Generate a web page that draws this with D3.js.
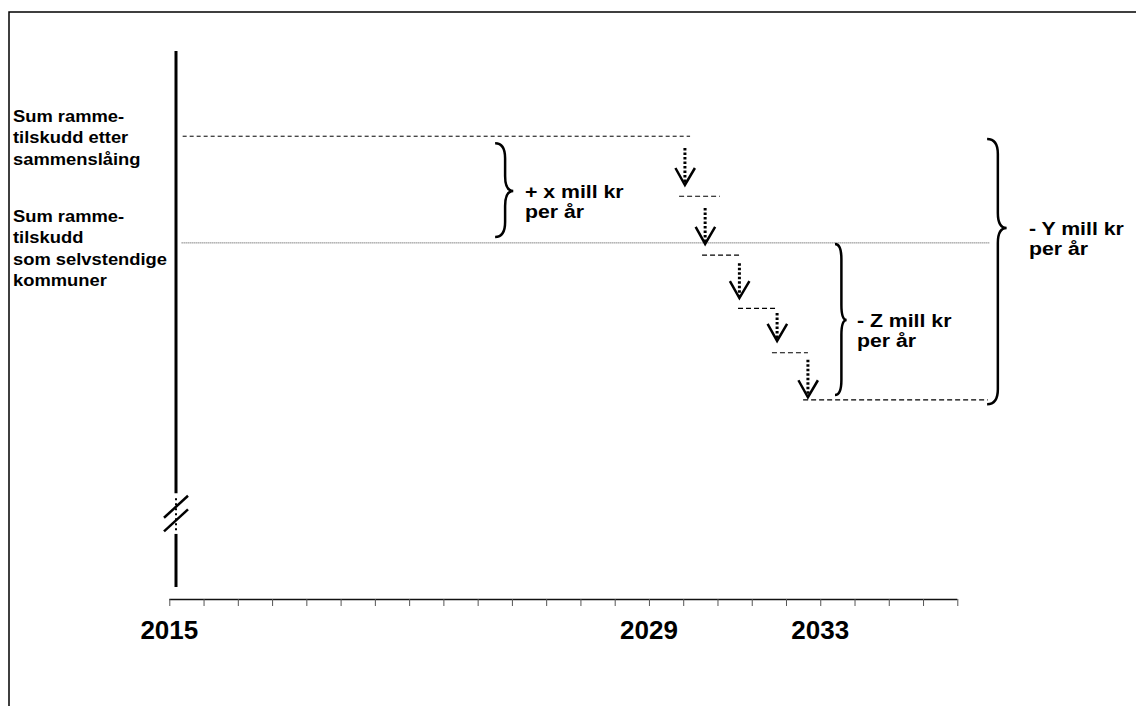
<!DOCTYPE html>
<html>
<head>
<meta charset="utf-8">
<script src="https://cdn.jsdelivr.net/npm/d3@7"></script>
<style>
    body { margin: 0; background: #fff; }
    svg { display: block; font-family: "Liberation Sans", Arial, sans-serif; font-weight: bold; }
</style>
</head>
<body>
<div id="chart"></div>
<script>
const width = 1136;
const height = 706;

// time axis: one tick per year slot, only three of them labelled
const tickSlots = [0, 1, 2, 3, 4, 5, 6, 7, 8, 9, 10, 11, 12, 13, 14, 15, 16, 17, 18, 19, 20, 21, 22, 23];
const yearLabelSlots = [0, 14, 19];
const yearLabels = ["2015", "2029", "2033"];

// level of the block grant (schematic units, 0-100 on the broken axis)
const levelMerged = 84.1;
const levelSeparate = 64.2;
const mergedSpan = [0.39, 15.2];
const separateSpan = [0.36, 23.95];

// stepwise reduction after the merger
const stepStart = [14.88, 15.55, 16.6, 17.59, 18.5];
const stepEnd = [16.07, 16.63, 17.74, 18.64, 23.89];
const stepLevel = [72.9, 61.9, 52.0, 43.7, 34.9];

const arrowSlot = [15.05, 15.64, 16.64, 17.74, 18.64];
const arrowFrom = [81.9, 70.7, 60.4, 51.1, 42.4];
const arrowTo = [75.0, 64.0, 53.9, 45.9, 35.4];

// braces with their labels
const braceLabels = [["+ x mill kr", "per år"], ["- Z mill kr", "per år"], ["- Y mill kr", "per år"]];
const braceEndSlot = [9.51, 19.43, 23.87];
const braceTipSlot = [10.04, 19.77, 24.44];
const braceLabelSlot = [10.38, 20.07, 25.09];
const braceTop = [82.8, 64.0, 83.6];
const braceTip = [73.9, 49.8, 67.0];
const braceBottom = [65.3, 35.8, 34.1];

const leftLabels = [
    ["Sum ramme-", "tilskudd etter", "sammenslåing"],
    ["Sum ramme-", "tilskudd", "som selvstendige", "kommuner"]
];

const axisBreak = [17.5, 9.9];

const svg = d3.select("#chart").append("svg")
    .attr("width", width)
    .attr("height", height);

const x = d3.scaleLinear()
    .domain([0, 23])
    .range([169.3, 957.3]);

const y = d3.scaleLinear()
    .domain([0, 100])
    .range([587, 51]);

// frame (only top and left edges show)
svg.append("path")
    .attr("d", `M9,${height} L9,12 L${width},12`)
    .attr("fill", "none")
    .attr("stroke", "#000")
    .attr("stroke-width", 1.5);

// vertical axis with a break
const axisX = x(0) + 6.7;
svg.append("line")
    .attr("x1", axisX).attr("x2", axisX)
    .attr("y1", y(100)).attr("y2", y(axisBreak[0]))
    .attr("stroke", "#000").attr("stroke-width", 3);
svg.append("line")
    .attr("x1", axisX).attr("x2", axisX)
    .attr("y1", y(axisBreak[1])).attr("y2", y(0))
    .attr("stroke", "#000").attr("stroke-width", 3);
svg.append("line")
    .attr("x1", axisX).attr("x2", axisX)
    .attr("y1", y(axisBreak[0]) + 5).attr("y2", y(axisBreak[1]) - 3)
    .attr("stroke", "#000").attr("stroke-width", 2)
    .attr("stroke-dasharray", "2,3");

const breakMid = (y(axisBreak[0]) + y(axisBreak[1])) / 2;
[-6.8, 6.8].forEach(off => {
    svg.append("line")
        .attr("x1", axisX - 12).attr("y1", breakMid + off + 11)
        .attr("x2", axisX + 12).attr("y2", breakMid + off - 11)
        .attr("stroke", "#000").attr("stroke-width", 2.5);
});

// horizontal axis
const xAxis = d3.axisBottom(x)
    .tickValues(tickSlots)
    .tickSize(7)
    .tickFormat("");

const gx = svg.append("g")
    .attr("transform", "translate(0,599)")
    .call(xAxis);
gx.select(".domain").attr("d", `M${x(0)},0.5H${x(23)}`).attr("stroke", "#111").attr("stroke-width", 1.5);
gx.selectAll(".tick line").attr("stroke", "#555");

svg.selectAll(".year")
    .data(yearLabels)
    .enter()
    .append("text")
    .attr("class", "year")
    .attr("x", (d, i) => x(yearLabelSlots[i]))
    .attr("y", 639)
    .attr("text-anchor", "middle")
    .attr("font-size", 26)
    .text(d => d);

// left labels
leftLabels.forEach((lines, g) => {
    const t = svg.append("g")
        .attr("transform", `translate(13,${g === 0 ? 122 : 222}) scale(1.08,1)`)
        .append("text")
        .attr("font-size", 17);
    t.selectAll("tspan")
        .data(lines)
        .enter()
        .append("tspan")
        .attr("x", 0)
        .attr("y", (d, i) => i * 21.5)
        .text(d => d);
});

// grant level lines
svg.append("line")
    .attr("x1", x(mergedSpan[0])).attr("x2", x(mergedSpan[1]))
    .attr("y1", y(levelMerged)).attr("y2", y(levelMerged))
    .attr("stroke", "#000").attr("stroke-width", 1)
    .attr("stroke-dasharray", "4,3");

svg.append("line")
    .attr("x1", x(separateSpan[0])).attr("x2", x(separateSpan[1]))
    .attr("y1", y(levelSeparate)).attr("y2", y(levelSeparate))
    .attr("stroke", "#444").attr("stroke-width", 1)
    .attr("stroke-dasharray", "1,1");

svg.selectAll(".step")
    .data(stepLevel)
    .enter()
    .append("line")
    .attr("class", "step")
    .attr("x1", (d, i) => x(stepStart[i]))
    .attr("x2", (d, i) => x(stepEnd[i]))
    .attr("y1", d => y(d))
    .attr("y2", d => y(d))
    .attr("stroke", "#000").attr("stroke-width", 1.2)
    .attr("stroke-dasharray", "5,3");

// dotted arrows
arrowSlot.forEach((s, i) => {
    const ax = x(s);
    svg.append("line")
        .attr("x1", ax).attr("x2", ax)
        .attr("y1", y(arrowFrom[i])).attr("y2", y(arrowTo[i]) - 2)
        .attr("stroke", "#000").attr("stroke-width", 3)
        .attr("stroke-dasharray", "2.5,2");
    const tip = y(arrowTo[i]);
    svg.append("path")
        .attr("d", `M${ax - 9.5},${tip - 17} L${ax},${tip} L${ax + 10},${tip - 17}`)
        .attr("fill", "none")
        .attr("stroke", "#000")
        .attr("stroke-width", 2.5);
});

// curly braces
function bracePath(xEnd, xTip, yTop, yMid, yBot) {
    const xs = xEnd + (xTip - xEnd) * 0.55;
    const r = 15;
    return `M${xEnd},${yTop} Q${xs},${yTop} ${xs},${yTop + r} L${xs},${yMid - r} ` +
        `Q${xs},${yMid} ${xTip},${yMid} Q${xs},${yMid} ${xs},${yMid + r} ` +
        `L${xs},${yBot - r} Q${xs},${yBot} ${xEnd},${yBot}`;
}

braceLabels.forEach((lines, i) => {
    svg.append("path")
        .attr("d", bracePath(x(braceEndSlot[i]), x(braceTipSlot[i]), y(braceTop[i]), y(braceTip[i]), y(braceBottom[i])))
        .attr("fill", "none")
        .attr("stroke", "#000")
        .attr("stroke-width", 2.5);

    const t = svg.append("g")
        .attr("transform", `translate(${x(braceLabelSlot[i])},${y(braceTip[i]) + 7}) scale(1.12,1)`)
        .append("text")
        .attr("font-size", 19);
    t.selectAll("tspan")
        .data(lines)
        .enter()
        .append("tspan")
        .attr("x", 0)
        .attr("y", (d, j) => j * 20)
        .text(d => d);
});
</script>
</body>
</html>
